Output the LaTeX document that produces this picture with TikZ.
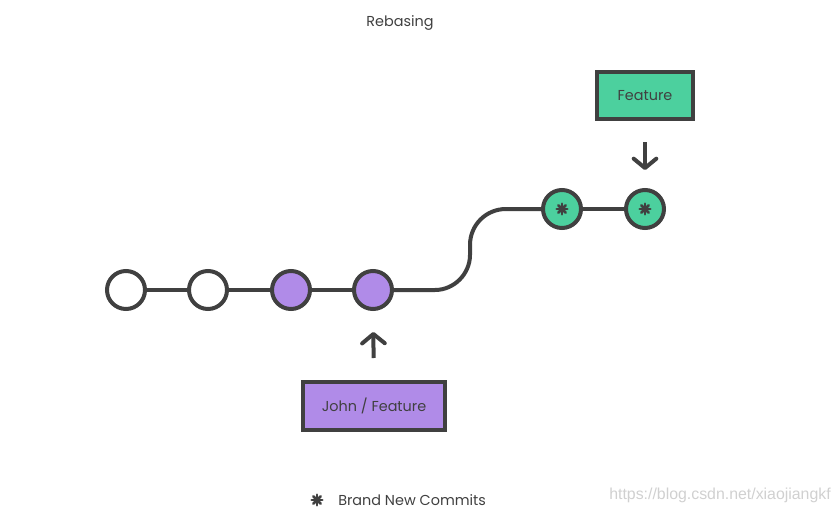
\documentclass[tikz,border=0pt]{standalone}
\usepackage{fontspec}
\setmainfont{Poppins}
\newfontfamily\urlfont{Liberation Sans}
\usetikzlibrary{arrows.meta}
\definecolor{linegray}{HTML}{404040}
\definecolor{commitpurple}{HTML}{B08BE8}
\definecolor{commitgreen}{HTML}{4CD09E}
\definecolor{markgray}{HTML}{D0D0D0}
\tikzstyle{asterisk}=[path picture={
    \foreach \a in {0,45,90,135}
        \draw[linegray, line width=1.9pt, line cap=round] (path picture bounding box.center) ++(\a:-4pt) -- ++(\a:8pt);
}]
\tikzstyle{commit}=[circle, draw=linegray, line width=3pt, minimum size=28.5pt, inner sep=0pt]
\tikzstyle{old_commit}=[commit, fill=white]
\tikzstyle{john_commit}=[commit, fill=commitpurple]
\tikzstyle{new_commit}=[commit, fill=commitgreen, asterisk]
\tikzstyle{label_text}=[text=linegray, font=\fontsize{10.8}{13}\selectfont]
\tikzstyle{branch}=[rectangle, draw=linegray, line width=3pt, inner sep=0pt, label_text]
\tikzstyle{pointer}=[line width=3pt, draw=linegray, -{Straight Barb[length=7pt, width=17pt, round]}]

\begin{document}
\begin{tikzpicture}[x=0.75pt, y=-0.75pt]
    \useasboundingbox (0,0) rectangle (840,514);

    \node (title) at (400, 23) [label_text] {Rebasing};

    \node (c1) at (126, 290) [old_commit] {};
    \node (c2) at (208, 290) [old_commit] {};
    \node (c3) at (291, 290) [john_commit] {};
    \node (c4) at (373, 290) [john_commit] {};
    \node (n1) at (562, 209) [new_commit] {};
    \node (n2) at (645, 209) [new_commit] {};

    \node (feature) at (645, 95.5) [branch, fill=commitgreen, minimum width=72pt, minimum height=35.25pt] {Feature};
    \node (john) at (374, 406) [branch, fill=commitpurple, minimum width=106.5pt, minimum height=36pt] {John / Feature};

    \draw (c1) -- (c2) [line width=3pt, color=linegray];
    \draw (c2) -- (c3) [line width=3pt, color=linegray];
    \draw (c3) -- (c4) [line width=3pt, color=linegray];
    \draw (c4) -- (435, 290) .. controls (454, 290) and (470, 274) .. (470, 255)
        -- (470, 245) .. controls (470, 225) and (486, 209) .. (506, 209) -- (n1) [line width=3pt, color=linegray];
    \draw (n1) -- (n2) [line width=3pt, color=linegray];

    \draw (feature) -- (n2) [pointer, shorten <=15.75pt, shorten >=13.5pt];
    \draw (john) -- (c4) [pointer, shorten <=16.5pt, shorten >=15.75pt];

    \node (legend_mark) at (317, 500) [circle, minimum size=12pt, inner sep=0pt, asterisk] {};
    \node (legend) at (338, 500) [anchor=west, inner sep=0pt, label_text] {Brand New Commits};

    \node (watermark) at (831, 495) [anchor=east, inner sep=0pt, text=markgray, font=\urlfont\fontsize{11.9}{13}\selectfont] {https://blog.csdn.net/xiaojiangkf};
\end{tikzpicture}
\end{document}
